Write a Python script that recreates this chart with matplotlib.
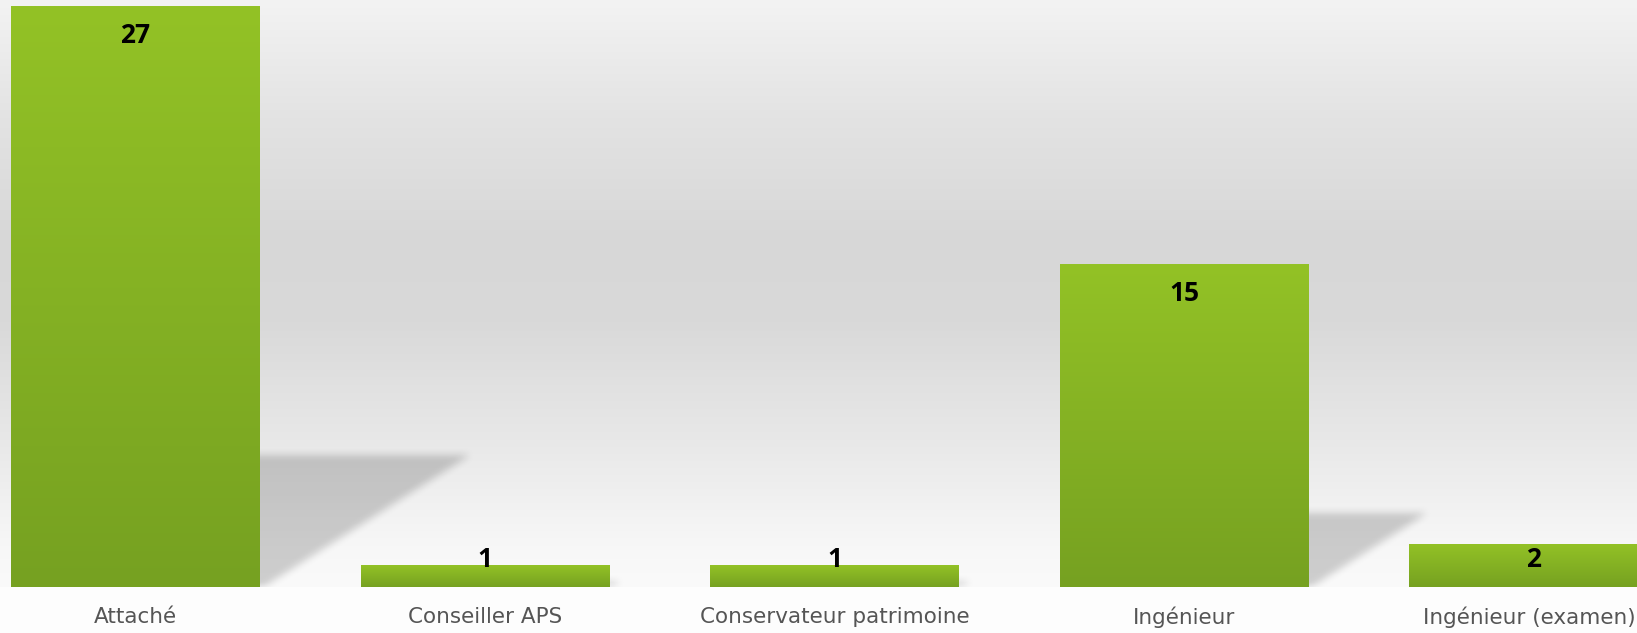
import numpy as np
import matplotlib
matplotlib.use("Agg")
import matplotlib.pyplot as plt
from matplotlib.colors import LinearSegmentedColormap

# Data
categories = ["Attaché", "Conseiller APS", "Conservateur patrimoine", "Ingénieur", "Ingénieur (examen)"]
values = [27, 1, 1, 15, 2]

# Styling
bar_width = 0.712
bar_top_color = "#93c226"
bar_bottom_color = "#76a121"
label_color = "#555555"

fig = plt.figure(figsize=(16.37, 6.33), dpi=100)
fig.patch.set_facecolor("#fdfdfd")

ax = fig.add_axes([0, 1 - 587 / 633, 1, 587 / 633])
xlim = (-0.388, 4.296)
ylim = (0, 27.28)
ax.set_xlim(*xlim)
ax.set_ylim(*ylim)
for s in ax.spines.values():
    s.set_visible(False)
ax.set_yticks([])
ax.set_xticks([])

# Background vertical gradient (top -> baseline)
stops = [(0.0, 243), (0.2, 227), (0.41, 215), (0.55, 217), (0.75, 232), (0.93, 247), (1.0, 250)]
ny = 600
t = np.linspace(0, 1, ny)
grey = np.interp(t, [s[0] for s in stops], [s[1] for s in stops]) / 255.0
bg = np.repeat(grey[:, None], 2, axis=1)
bg_rgb = np.dstack([bg, bg, bg])
ax.imshow(bg_rgb, extent=[xlim[0], xlim[1], ylim[0], ylim[1]], origin="upper",
          aspect="auto", zorder=0, interpolation="bilinear")

# Soft shadows projected to the right of each bar
H, W = 587, 1637
xs = np.linspace(xlim[0], xlim[1], W)
ys = np.linspace(ylim[1], ylim[0], H)
X, Y = np.meshgrid(xs, ys)
alpha = np.zeros((H, W))
for i, v in enumerate(values):
    x_r = i + bar_width / 2
    h = 0.227 * v
    L = 0.0219 * v
    # start a little inside the bar so the blur does not lighten the bar edge
    inside = (Y >= -1) & (Y <= h) & (X >= x_r - 0.06) & (X <= x_r + L * (np.clip(Y, 0, None) / max(h, 1e-9)) + 0.01)
    alpha = np.maximum(alpha, inside.astype(float))


def box_blur(a, r):
    k = np.ones(2 * r + 1) / (2 * r + 1)
    a = np.apply_along_axis(lambda m: np.convolve(m, k, mode="same"), 0, a)
    a = np.apply_along_axis(lambda m: np.convolve(m, k, mode="same"), 1, a)
    return a


alpha = box_blur(box_blur(alpha, 4), 4)
shadow = np.zeros((H, W, 4))
shadow[..., 3] = alpha * 0.18
ax.imshow(shadow, extent=[xlim[0], xlim[1], ylim[0], ylim[1]], origin="upper",
          aspect="auto", zorder=1, interpolation="bilinear")

# Bars with vertical gradient
bars = ax.bar(range(len(values)), values, width=bar_width, color=bar_bottom_color,
              linewidth=0, zorder=2)
cmap = LinearSegmentedColormap.from_list("g", [bar_bottom_color, bar_top_color])
grad = np.linspace(0, 1, 256)[:, None]
for b in bars:
    x0 = b.get_x()
    im = ax.imshow(grad, extent=[x0, x0 + b.get_width(), 0, b.get_height()], origin="lower",
                   cmap=cmap, aspect="auto", zorder=2.5, interpolation="bilinear")
    im.set_clip_path(b)

# Value labels
for i, v in enumerate(values):
    y = max(v - 1.38, 1.26)
    ax.text(i, y, str(v), ha="center", va="center", fontsize=19, fontweight="bold",
            family=["Open Sans", "DejaVu Sans"], color="black", zorder=3)

# Category labels
for i, name in enumerate(categories):
    if i == len(categories) - 1:
        ax.text(0.999, -1.4, name, transform=ax.get_yaxis_transform(),
                ha="right", va="center", fontsize=15.5, color=label_color, clip_on=False)
    else:
        ax.text(i, -1.4, name, ha="center", va="center", fontsize=15.5, color=label_color,
                clip_on=False)

fig.savefig("out.png", dpi=100, facecolor=fig.get_facecolor())
